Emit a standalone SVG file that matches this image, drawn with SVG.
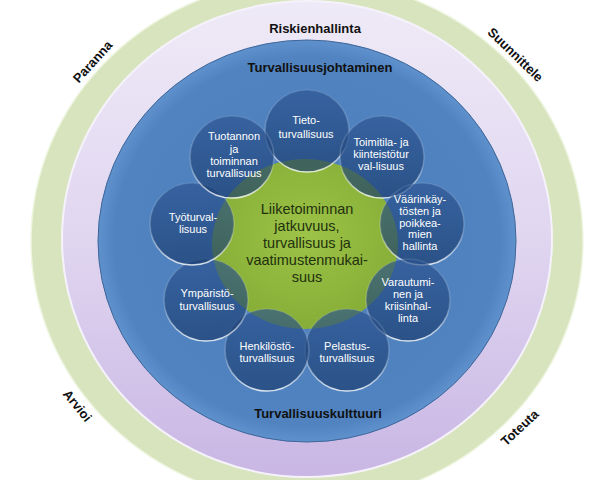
<svg xmlns="http://www.w3.org/2000/svg" width="614" height="480" viewBox="0 0 614 480">
<defs>
<linearGradient id="gPurple" x1="0" y1="0" x2="0" y2="1">
<stop offset="0" stop-color="#efeaf7"/>
<stop offset="0.5" stop-color="#e0d6f0"/>
<stop offset="1" stop-color="#c9b6e4"/>
</linearGradient>
<radialGradient id="gBlue" cx="0.5" cy="0.5" r="0.5">
<stop offset="0" stop-color="#4c7ebb"/>
<stop offset="0.92" stop-color="#5083c0"/>
<stop offset="1" stop-color="#5f91cd"/>
</radialGradient>
<radialGradient id="gCenter" cx="0.5" cy="0.45" r="0.55">
<stop offset="0" stop-color="#9dc447"/>
<stop offset="1" stop-color="#86ad36"/>
</radialGradient>
<linearGradient id="gBall" x1="0" y1="0" x2="0" y2="1">
<stop offset="0" stop-color="#2a5290"/>
<stop offset="1" stop-color="#183a6b"/>
</linearGradient>
<linearGradient id="gRim" x1="0" y1="0" x2="0" y2="1">
<stop offset="0" stop-color="#ffffff" stop-opacity="0.1"/>
<stop offset="0.6" stop-color="#ffffff" stop-opacity="0.2"/>
<stop offset="1" stop-color="#ffffff" stop-opacity="0.8"/>
</linearGradient>
</defs>
<style>
.ring{font-family:"Liberation Sans",Arial,sans-serif;font-weight:bold;font-size:13px;fill:#111111;text-anchor:middle}
.cyc{font-family:"Liberation Sans",Arial,sans-serif;font-weight:bold;font-size:13px;fill:#111111;text-anchor:middle}
.ball{fill:url(#gBall);fill-opacity:0.66;stroke:url(#gRim);stroke-width:1.6}
.bt{font-family:"Liberation Sans",Arial,sans-serif;font-size:11px;fill:#ffffff;text-anchor:middle}
.ct{font-family:"Liberation Sans",Arial,sans-serif;font-size:14.5px;fill:#22300f;text-anchor:middle}
</style>

<g id="ring-green">
<ellipse cx="307" cy="241" rx="276" ry="262" fill="#d7e4bd" stroke="#eef5e0" stroke-width="1.5"/>
</g>
<g id="ring-purple">
<ellipse cx="307" cy="239" rx="245" ry="238" fill="url(#gPurple)" stroke="#f6f2fb" stroke-width="2"/>
<text class="ring" x="315" y="33">Riskienhallinta</text>
</g>
<g id="disc-blue">
<ellipse cx="307" cy="241" rx="209" ry="201" fill="url(#gBlue)" stroke="#3e6699" stroke-width="1"/>
<text class="ring" x="320" y="72">Turvallisuusjohtaminen</text>
<text class="ring" x="318" y="418">Turvallisuuskulttuuri</text>
</g>

<g id="cycle-labels">
<text class="cyc" transform="translate(93,62) rotate(-48)" y="4">Paranna</text>
<text class="cyc" transform="translate(515,55) rotate(44)" y="4">Suunnittele</text>
<text class="cyc" transform="translate(520,428) rotate(-43)" y="4">Toteuta</text>
<text class="cyc" transform="translate(77,406) rotate(51)" y="4">Arvioi</text>
</g>

<g id="center">
<ellipse cx="305" cy="244" rx="93" ry="85" fill="url(#gCenter)"/>
<text class="ct" x="307" y="214">Liiketoiminnan</text>
<text class="ct" x="307" y="231">jatkuvuus,</text>
<text class="ct" x="307" y="248">turvallisuus ja</text>
<text class="ct" x="307" y="265">vaatimustenmukai-</text>
<text class="ct" x="307" y="282">suus</text>
</g>

<g id="c-tieto">
<ellipse class="ball" cx="307" cy="131" rx="42" ry="41"/>
<text class="bt" x="306" y="124">Tieto-</text>
<text class="bt" x="306" y="138">turvallisuus</text>
</g>
<g id="c-toimitila">
<ellipse class="ball" cx="382" cy="157" rx="42" ry="41"/>
<text class="bt" x="381" y="146">Toimitila- ja</text>
<text class="bt" x="381" y="158">kiinteistötur</text>
<text class="bt" x="381" y="170">val-lisuus</text>
</g>
<g id="c-vaarinkaytosten">
<ellipse class="ball" cx="422" cy="224" rx="42" ry="41"/>
<text class="bt" x="420" y="203">Väärinkäy-</text>
<text class="bt" x="420" y="215">tösten ja</text>
<text class="bt" x="420" y="226.5">poikkea-</text>
<text class="bt" x="420" y="238">mien</text>
<text class="bt" x="420" y="250">hallinta</text>
</g>
<g id="c-varautuminen">
<ellipse class="ball" cx="408" cy="300" rx="42" ry="41"/>
<text class="bt" x="408" y="286">Varautumi-</text>
<text class="bt" x="408" y="298">nen ja</text>
<text class="bt" x="408" y="310">kriisinhal-</text>
<text class="bt" x="408" y="322">linta</text>
</g>
<g id="c-pelastus">
<ellipse class="ball" cx="347" cy="350" rx="42" ry="41"/>
<text class="bt" x="347" y="350">Pelastus-</text>
<text class="bt" x="347" y="362">turvallisuus</text>
</g>
<g id="c-henkilosto">
<ellipse class="ball" cx="267" cy="350" rx="42" ry="41"/>
<text class="bt" x="267" y="350">Henkilöstö-</text>
<text class="bt" x="267" y="362">turvallisuus</text>
</g>
<g id="c-ymparisto">
<ellipse class="ball" cx="206" cy="300" rx="42" ry="41"/>
<text class="bt" x="207" y="297">Ympäristö-</text>
<text class="bt" x="207" y="310">turvallisuus</text>
</g>
<g id="c-tyoturvallisuus">
<ellipse class="ball" cx="192" cy="224" rx="42" ry="41"/>
<text class="bt" x="193" y="221">Työturval-</text>
<text class="bt" x="193" y="233">lisuus</text>
</g>
<g id="c-tuotannon">
<ellipse class="ball" cx="232" cy="157" rx="42" ry="41"/>
<text class="bt" x="234" y="140">Tuotannon</text>
<text class="bt" x="234" y="152.5">ja</text>
<text class="bt" x="234" y="164.5">toiminnan</text>
<text class="bt" x="234" y="177">turvallisuus</text>
</g>
</svg>
